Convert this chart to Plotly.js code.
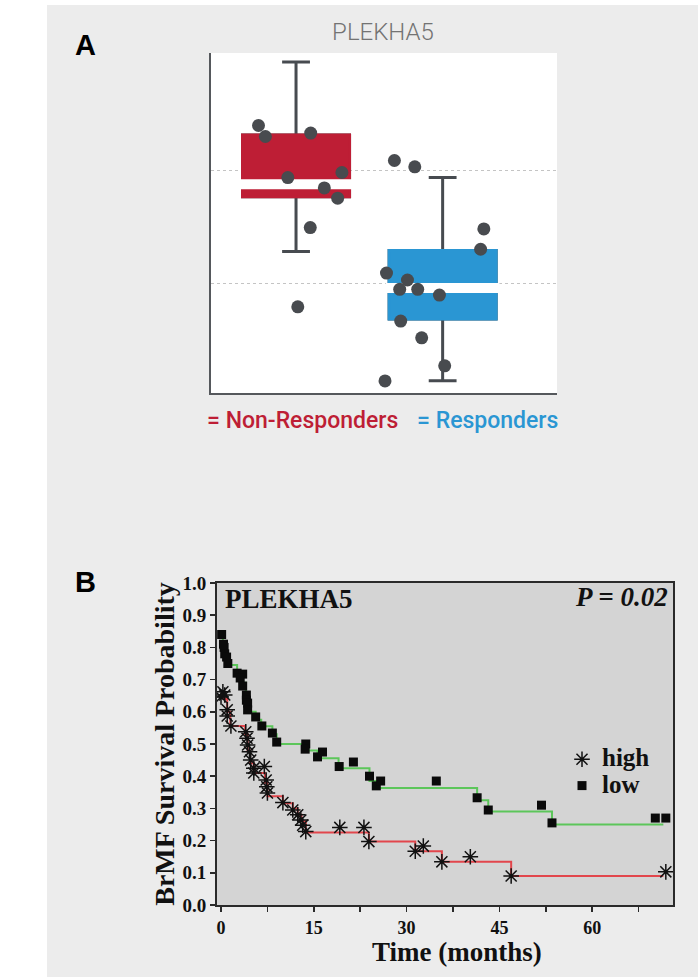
<!DOCTYPE html>
<html>
<head>
<meta charset="utf-8">
<script src="https://cdn.plot.ly/plotly-3.0.1.min.js"></script>
<style>html,body{margin:0;padding:0;background:#fff;}#chart{width:698px;height:977px;}</style>
</head>
<body>
<div id="chart"></div>
<script>
// ---------- Panel A data (box plot) ----------
const groups = ['Non-Responders', 'Responders'];
const groupPos = [0, 1];
const q1 = [5.77, 4.68];
const median = [5.88, 4.955];
const q3 = [6.32, 5.29];
const lowerFence = [5.28, 4.13];
const upperFence = [6.97, 5.94];
// individual points: horizontal jitter offset and value
const nonRespJitter = [-0.256, -0.209, 0.100, -0.056, 0.313, 0.193, 0.284, 0.097, 0.012];
const nonRespValues = [6.404, 6.306, 6.336, 5.94, 5.985, 5.848, 5.756, 5.494, 4.788];
const respJitter = [-0.329, -0.190, 0.281, 0.259, -0.383, -0.240, -0.293, -0.170, -0.022, -0.286, -0.143, 0.014, -0.393];
const respValues = [6.092, 6.036, 5.482, 5.301, 5.089, 5.027, 4.944, 4.944, 4.893, 4.661, 4.512, 4.262, 4.128];
const gridValues = [5, 6];

// ---------- Panel B data (Kaplan-Meier) ----------
const highLineT = [0, 0.5, 1.0, 1.5, 3.9, 4.3, 4.7, 5.3, 7.1, 7.5, 10.0, 11.6, 12.4, 13.0, 13.7, 23.9, 31.4, 35.7, 46.9, 71.5];
const highLineS = [0.655, 0.64, 0.60, 0.556, 0.53, 0.48, 0.44, 0.41, 0.38, 0.338, 0.316, 0.30, 0.28, 0.26, 0.225, 0.197, 0.167, 0.134, 0.09, 0.09];
const lowLineT = [0, 0.3, 0.8, 1.1, 2.6, 3.3, 4.0, 4.5, 5.6, 6.5, 8.3, 9.0, 13.7, 15.6, 19.0, 24.0, 25.1, 41.4, 43.2, 53.5, 71.5];
const lowLineS = [0.84, 0.81, 0.77, 0.745, 0.72, 0.69, 0.65, 0.60, 0.575, 0.555, 0.53, 0.50, 0.48, 0.456, 0.425, 0.385, 0.363, 0.325, 0.29, 0.25, 0.25];
const highMarkT = [0.3, 0.0, 0.6, 1.0, 1.0, 1.6, 4.0, 4.2, 4.3, 4.6, 4.8, 5.3, 5.3, 7.0, 7.3, 7.4, 7.5, 10.0, 11.6, 12.4, 12.9, 13.2, 13.7, 19.2, 23.1, 23.9, 31.4, 32.7, 35.7, 40.3, 46.9, 71.9];
const highMarkS = [0.662, 0.646, 0.652, 0.606, 0.587, 0.556, 0.538, 0.518, 0.497, 0.476, 0.45, 0.425, 0.41, 0.43, 0.388, 0.367, 0.348, 0.318, 0.295, 0.28, 0.264, 0.248, 0.228, 0.241, 0.241, 0.197, 0.167, 0.183, 0.134, 0.15, 0.09, 0.103];
const lowMarkT = [0.1, 0.4, 0.5, 0.6, 0.9, 1.1, 2.6, 3.5, 3.1, 3.5, 4.1, 4.1, 4.3, 4.3, 5.6, 6.6, 8.3, 9.0, 13.7, 13.6, 15.6, 16.4, 19.1, 21.4, 24.0, 25.1, 25.8, 34.8, 41.4, 43.2, 51.8, 53.5, 70.2, 71.9];
const lowMarkS = [0.84, 0.81, 0.80, 0.78, 0.77, 0.75, 0.72, 0.717, 0.705, 0.68, 0.652, 0.636, 0.627, 0.606, 0.584, 0.556, 0.534, 0.506, 0.50, 0.484, 0.46, 0.475, 0.43, 0.444, 0.40, 0.37, 0.385, 0.385, 0.333, 0.295, 0.31, 0.255, 0.27, 0.27];
const yTickVals = [0, 0.1, 0.2, 0.3, 0.4, 0.5, 0.6, 0.7, 0.8, 0.9, 1.0];

// ---------- styles ----------
const groupColors = ['#be1e35', '#2a96d3'];
const dark = '#474b50';
const serif = 'Liberation Serif, Times New Roman, serif';

const traces = [];
// whiskers
traces.push({
  type: 'box', x: groupPos, q1: q1, median: median, q3: q3,
  lowerfence: lowerFence, upperfence: upperFence,
  width: 0.73, whiskerwidth: 0.26, boxpoints: false,
  line: {color: dark, width: 3}, fillcolor: 'rgba(0,0,0,0)',
  showlegend: false, hoverinfo: 'skip', xaxis: 'x', yaxis: 'y'
});
// coloured boxes
groups.forEach((g, i) => {
  traces.push({
    type: 'box', name: g, x: [groupPos[i]], q1: [q1[i]], median: [median[i]], q3: [q3[i]],
    lowerfence: [q1[i]], upperfence: [q3[i]],
    width: 0.73, whiskerwidth: 0, boxpoints: false,
    line: {color: groupColors[i], width: 3}, fillcolor: groupColors[i],
    showlegend: false, xaxis: 'x', yaxis: 'y'
  });
});
// white median bands
traces.push({
  type: 'box', x: groupPos, q1: median, median: median, q3: median,
  lowerfence: median, upperfence: median,
  width: 0.775, whiskerwidth: 0, boxpoints: false,
  line: {color: '#ffffff', width: 10}, fillcolor: 'rgba(0,0,0,0)',
  showlegend: false, hoverinfo: 'skip', xaxis: 'x', yaxis: 'y'
});
// points
traces.push({
  type: 'scatter', mode: 'markers',
  x: nonRespJitter.map(j => groupPos[0] + j), y: nonRespValues,
  marker: {color: '#484b4f', size: 13}, showlegend: false, xaxis: 'x', yaxis: 'y'
});
traces.push({
  type: 'scatter', mode: 'markers',
  x: respJitter.map(j => groupPos[1] + j), y: respValues,
  marker: {color: '#484b4f', size: 13}, showlegend: false, xaxis: 'x', yaxis: 'y'
});

// KM lines
traces.push({type: 'scatter', mode: 'lines', x: highLineT, y: highLineS, line: {shape: 'hv', color: '#e2464c', width: 2},
  showlegend: false, xaxis: 'x2', yaxis: 'y2'});
traces.push({type: 'scatter', mode: 'lines', x: lowLineT, y: lowLineS, line: {shape: 'hv', color: '#5cc65a', width: 2},
  showlegend: false, xaxis: 'x2', yaxis: 'y2'});
traces.push({type: 'scatter', mode: 'markers', name: '<span style="font-size:25px">high</span>', x: highMarkT, y: highMarkS,
  marker: {symbol: 'asterisk-open', size: 13, line: {color: '#111', width: 1.5}, color: '#111'}, xaxis: 'x2', yaxis: 'y2'});
traces.push({type: 'scatter', mode: 'markers', name: '<span style="font-size:25px">low</span>', x: lowMarkT, y: lowMarkS,
  marker: {symbol: 'square', size: 9, color: '#0a0a0a'}, xaxis: 'x2', yaxis: 'y2'});

const W = 698, H = 977;
const px = v => v / W, py = v => 1 - v / H;

const layout = {
  width: W, height: H,
  margin: {l: 0, r: 0, t: 0, b: 0},
  paper_bgcolor: '#ececec',
  plot_bgcolor: '#ffffff',
  showlegend: true,
  boxmode: 'overlay',
  title: {text: 'PLEKHA5', x: px(383), y: py(32), xanchor: 'center', yanchor: 'middle', xref: 'paper', yref: 'paper',
    font: {family: 'Roboto', size: 24, weight: 300, color: '#737373'}},
  xaxis: {domain: [px(211), px(557)], range: [-0.58, 1.78], showline: true, linecolor: '#55585c', linewidth: 2,
    showgrid: false, zeroline: false, showticklabels: false, ticks: '', anchor: 'y', fixedrange: true},
  yaxis: {domain: [py(393), py(53)], range: [4.02, 7.05], tickvals: gridValues, showticklabels: false, ticks: '',
    showgrid: true, gridcolor: '#c4c4c4', griddash: 'dot', gridwidth: 1,
    showline: true, linecolor: '#55585c', linewidth: 2, zeroline: false, anchor: 'x'},
  xaxis2: {domain: [px(217), px(673)], range: [-0.65, 73.06], anchor: 'y2',
    showline: true, mirror: true, linecolor: '#2a2a2a', linewidth: 2, showgrid: false, zeroline: false,
    ticks: 'outside', ticklen: 5, tickwidth: 1.5, tickcolor: '#2a2a2a', tick0: 0, dtick: 15,
    minor: {dtick: 7.5, ticks: 'outside', ticklen: 5, tickwidth: 1.5, tickcolor: '#2a2a2a'},
    tickfont: {family: serif, size: 18, weight: 'bold', color: '#111'}},
  yaxis2: {domain: [py(905), py(583)], range: [0, 1], anchor: 'x2',
    showline: true, mirror: true, linecolor: '#2a2a2a', linewidth: 2, showgrid: false, zeroline: false,
    ticks: 'outside', ticklen: 5, tickwidth: 1.5, tickcolor: '#2a2a2a', tickvals: yTickVals, tickformat: '.1f',
    tickfont: {family: serif, size: 19, weight: 'bold', color: '#111'},
    title: {text: 'BrMF Survival Probability', font: {family: serif, size: 28, weight: 'bold', color: '#111'}, standoff: 0}},
  legend: {x: px(562), y: py(741), xanchor: 'left', yanchor: 'top', bgcolor: 'rgba(0,0,0,0)',
    font: {family: serif, size: 18, weight: 'bold', color: '#111'}, itemwidth: 30, tracegroupgap: 0},
  shapes: [
    {type: 'rect', xref: 'paper', yref: 'paper', x0: 0, x1: px(47), y0: 0, y1: 1, fillcolor: '#ffffff', line: {width: 0}, layer: 'below'},
    {type: 'rect', xref: 'paper', yref: 'paper', x0: 0, x1: 1, y0: py(5), y1: 1, fillcolor: '#ffffff', line: {width: 0}, layer: 'below'},
    {type: 'rect', xref: 'x2 domain', yref: 'y2 domain', x0: 0, x1: 1, y0: 0, y1: 1, fillcolor: '#d4d4d4', line: {width: 0}, layer: 'below'}
  ],
  annotations: [
    {text: '<b>A</b>', xref: 'paper', yref: 'paper', x: px(85), y: py(45), xanchor: 'center', yanchor: 'middle', showarrow: false,
      font: {family: 'Liberation Sans, Arial, sans-serif', size: 29, color: '#000'}},
    {text: '<b>B</b>', xref: 'paper', yref: 'paper', x: px(85), y: py(582), xanchor: 'center', yanchor: 'middle', showarrow: false,
      font: {family: 'Liberation Sans, Arial, sans-serif', size: 29, color: '#000'}},
    {text: '= ' + groups[0], xref: 'paper', yref: 'paper', x: px(205), y: py(420), xanchor: 'left', yanchor: 'middle', showarrow: false,
      font: {family: 'Roboto', size: 23, weight: 500, color: groupColors[0]}},
    {text: '= ' + groups[1], xref: 'paper', yref: 'paper', x: px(415), y: py(420), xanchor: 'left', yanchor: 'middle', showarrow: false,
      font: {family: 'Roboto', size: 23, weight: 500, color: groupColors[1]}},
    {text: '<b>PLEKHA5</b>', xref: 'paper', yref: 'paper', x: px(223), y: py(599), xanchor: 'left', yanchor: 'middle', showarrow: false,
      font: {family: serif, size: 27, color: '#111'}},
    {text: '<b><i>P = 0.02</i></b>', xref: 'paper', yref: 'paper', x: px(670), y: py(597), xanchor: 'right', yanchor: 'middle', showarrow: false,
      font: {family: serif, size: 27, color: '#111'}},
    {text: '<b>Time (months)</b>', xref: 'paper', yref: 'paper', x: px(457), y: py(952), xanchor: 'center', yanchor: 'middle', showarrow: false,
      borderpad: 0, font: {family: serif, size: 27, color: '#111'}}
  ]
};

Plotly.newPlot('chart', traces, layout, {displayModeBar: false, staticPlot: true});
</script>
</body>
</html>
